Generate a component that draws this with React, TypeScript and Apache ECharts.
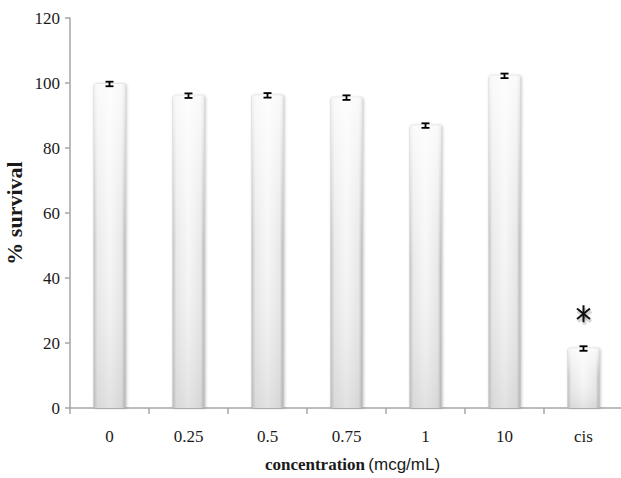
import React, { useEffect, useRef } from "react";
import * as echarts from "echarts";

const categories = ["0", "0.25", "0.5", "0.75", "1", "10", "cis"];
const survival = [99.7, 96.1, 96.2, 95.5, 86.9, 102.2, 18.3];
const errors = [0.7, 0.7, 0.7, 0.7, 0.7, 0.7, 0.7];
const significant = [{ index: 6, value: 29.0 }];
const yTicks = { min: 0, max: 120, interval: 20 };

export default function App() {
  const ref = useRef<HTMLDivElement>(null);
  useEffect(() => {
    if (!ref.current) return;
    const chart = echarts.init(ref.current, null, { renderer: "svg" });
    const serif = "'Liberation Serif', 'Times New Roman', serif";
    const errData = survival.map((v, i) => [i, v - errors[i], v + errors[i]]);
    chart.setOption({
      animation: false,
      backgroundColor: "#ffffff",
      grid: {
        left: 70,
        top: 18,
        width: 553,
        height: 390,
        containLabel: false,
        outerBoundsMode: "none",
      },
      xAxis: {
        type: "category",
        data: categories,
        boundaryGap: true,
        axisLine: { lineStyle: { color: "#a6a6a6", width: 1.5 } },
        axisTick: { show: true, alignWithLabel: false, length: 6, lineStyle: { color: "#a6a6a6", width: 1.5 } },
        axisLabel: { color: "#1a1a1a", fontFamily: serif, fontSize: 17, margin: 20 },
        name: "{b|concentration} {s|(mcg/mL)}",
        nameLocation: "middle",
        nameGap: 48,
        nameTextStyle: {
          padding: [0, 0, 0, 12],
          rich: {
            b: { fontFamily: serif, fontWeight: "bold", fontSize: 17, color: "#1a1a1a" },
            s: { fontFamily: "'Liberation Sans', Arial, sans-serif", fontSize: 17, color: "#1a1a1a" },
          },
        },
      },
      yAxis: {
        type: "value",
        min: yTicks.min,
        max: yTicks.max,
        interval: yTicks.interval,
        splitLine: { show: false },
        axisLine: { show: true, lineStyle: { color: "#a6a6a6", width: 1.5 } },
        axisTick: { show: true, length: 5, lineStyle: { color: "#a6a6a6", width: 1.5 } },
        axisLabel: { color: "#1a1a1a", fontFamily: serif, fontSize: 17, margin: 10 },
        name: "% survival",
        nameLocation: "middle",
        nameGap: 45,
        nameMoveOverlap: false,
        nameRotate: 90,
        nameTextStyle: { fontFamily: serif, fontWeight: "bold", fontSize: 22, color: "#1a1a1a" },
      },
      series: [
        {
          type: "bar",
          data: survival,
          barWidth: 32,
          itemStyle: {
            color: new echarts.graphic.LinearGradient(0, 0, 1, 0, [
              { offset: 0, color: "#b5b5b5" },
              { offset: 0.12, color: "#e6e6e6" },
              { offset: 0.5, color: "#f5f5f5" },
              { offset: 0.88, color: "#e4e4e4" },
              { offset: 1, color: "#a9a9a9" },
            ]),
            borderRadius: [2, 2, 0, 0],
            shadowBlur: 3,
            shadowColor: "rgba(0,0,0,0.25)",
            shadowOffsetX: 1,
          },
        },
        {
          type: "bar",
          data: survival,
          barWidth: 32,
          barGap: "-100%",
          itemStyle: {
            color: new echarts.graphic.LinearGradient(0, 0, 0, 1, [
              { offset: 0, color: "rgba(255,255,255,0.8)" },
              { offset: 0.5, color: "rgba(255,255,255,0.15)" },
              { offset: 1, color: "rgba(190,190,190,0.35)" },
            ]),
            borderRadius: [2, 2, 0, 0],
          },
        },
        {
          type: "custom",
          data: errData,
          z: 10,
          renderItem: (params: any, api: any) => {
            const x = api.value(0);
            const lo = api.coord([x, api.value(1)]);
            const hi = api.coord([x, api.value(2)]);
            const half = 4;
            const style = { stroke: "#000", lineWidth: 1.8 };
            return {
              type: "group",
              children: [
                { type: "line", shape: { x1: hi[0], y1: hi[1], x2: lo[0], y2: lo[1] }, style },
                { type: "line", shape: { x1: hi[0] - half, y1: hi[1], x2: hi[0] + half, y2: hi[1] }, style },
                { type: "line", shape: { x1: lo[0] - half, y1: lo[1], x2: lo[0] + half, y2: lo[1] }, style },
              ],
            };
          },
        },
        {
          type: "custom",
          data: significant.map((s) => [s.index, s.value]),
          z: 10,
          renderItem: (params: any, api: any) => {
            const c = api.coord([api.value(0), api.value(1)]);
            const r = 8.5;
            const dx = 6.5;
            const dy = 5.2;
            const shade = { stroke: "rgba(0,0,0,0.15)", lineWidth: 4 };
            const style = { stroke: "#111", lineWidth: 2 };
            const arms = (ox: number, oy: number, s: any) => [
              { type: "line", shape: { x1: c[0] + ox, y1: c[1] - r + oy, x2: c[0] + ox, y2: c[1] + r + oy }, style: s },
              { type: "line", shape: { x1: c[0] - dx + ox, y1: c[1] - dy + oy, x2: c[0] + dx + ox, y2: c[1] + dy + oy }, style: s },
              { type: "line", shape: { x1: c[0] - dx + ox, y1: c[1] + dy + oy, x2: c[0] + dx + ox, y2: c[1] - dy + oy }, style: s },
            ];
            return {
              type: "group",
              children: [...arms(1, 2.5, shade), ...arms(0, 0, style)],
            };
          },
        },
      ],
    });
    return () => chart.dispose();
  }, []);
  return (
    <div
      ref={ref}
      style={{ position: "absolute", left: 0, top: 0, width: 621, height: 478 }}
    />
  );
}
